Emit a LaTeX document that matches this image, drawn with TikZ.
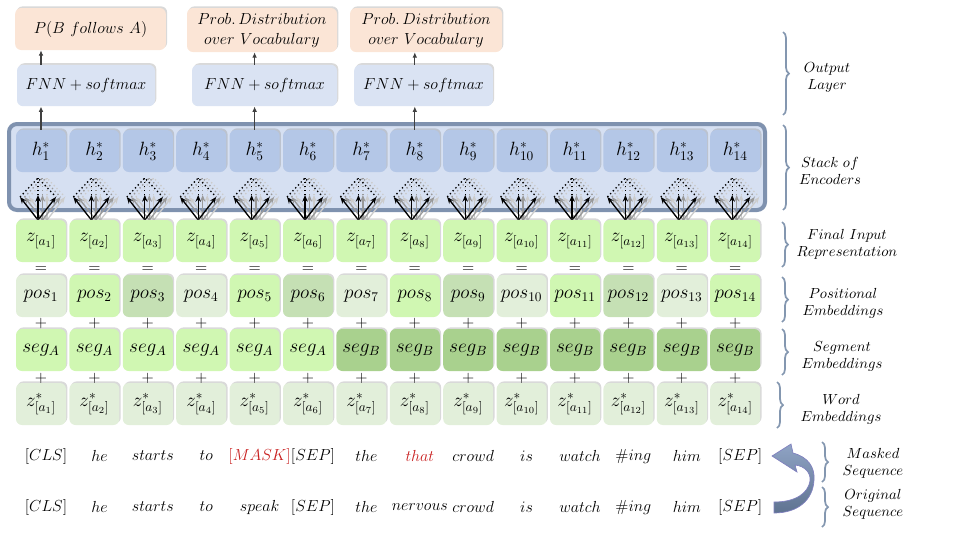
\documentclass[tikz,border=0pt]{standalone}
\usepackage{tikz}
\usetikzlibrary{arrows.meta, shadows, decorations.pathreplacing}

\definecolor{outpeach}{RGB}{251,229,214}
\definecolor{fnnblue}{RGB}{218,227,243}
\definecolor{hblue}{RGB}{180,199,231}
\definecolor{encfill}{RGB}{214,224,242}
\definecolor{encline}{RGB}{127,146,175}
\definecolor{bracegray}{RGB}{132,151,176}
\definecolor{zgreen}{RGB}{208,247,178}
\definecolor{poslight}{RGB}{226,239,218}
\definecolor{posdark}{RGB}{197,224,180}
\definecolor{segdark}{RGB}{169,209,142}
\definecolor{maskred}{RGB}{200,30,30}
\definecolor{arrtop}{RGB}{143,163,196}
\definecolor{arrbot}{RGB}{95,115,145}

\tikzset{
  cell/.style={rounded corners=4.5pt, minimum width=37.5pt, minimum height=31.5pt, inner sep=0pt,
    font=\fontsize{14}{16}\selectfont,
    drop shadow={shadow xshift=1pt, shadow yshift=1.2pt, opacity=0.3}},
  outbox/.style={cell, align=center, font=\fontsize{12.5}{15}\selectfont},
  sign/.style={inner sep=0pt, font=\fontsize{12}{14}\selectfont},
  token/.style={inner sep=1pt, font=\fontsize{12}{14}\selectfont},
  sidelabel/.style={align=center, inner sep=0pt, font=\fontsize{10.5}{12.75}\selectfont},
  sidebrace/.style={draw=bracegray, line width=1.3pt, decorate, decoration={brace, amplitude=4.5pt}},
  upline/.style={draw=black!75, line width=0.8pt, -{Latex[length=4pt, width=3.5pt]}},
  fanarrow/.style={line width=1pt, -{Stealth[length=5pt, width=4pt]}},
  fandot/.style={line width=1pt, dotted},
}

\begin{document}
\begin{tikzpicture}[x=0.75pt,y=0.75pt,yscale=-1,xscale=1]
    \useasboundingbox (0,0) rectangle (955,537);

    % Stack of encoders
    \node[draw=encline, line width=3pt, fill=encfill, rounded corners=6pt, minimum width=567pt, minimum height=64.5pt,
      drop shadow={shadow xshift=1pt, shadow yshift=1.5pt, opacity=0.3}] (enc) at (387,167) {};

    % Columns of embeddings
    \foreach \i in {1,...,14} {
      \pgfmathsetmacro{\cx}{41+(\i-1)*53.4}
      \pgfmathtruncatemacro{\r}{mod(\i,3)}
      \ifcase\r \def\pc{posdark}\or \def\pc{poslight}\or \def\pc{zgreen}\fi
      \ifnum\i<7 \def\sc{zgreen}\else \def\sc{segdark}\fi
      % attention fan
      \foreach \dx/\col in {9/black!20, 4.5/black!40, 0/black} {
        \draw[fanarrow, draw=\col] ({\cx-3+\dx},220) -- ({\cx-21+\dx},197);
        \draw[fanarrow, draw=\col] ({\cx-3+\dx},220) -- ({\cx-3+\dx},195);
        \draw[fanarrow, draw=\col] ({\cx-3+\dx},220) -- ({\cx+15+\dx},197);
        \draw[fandot, draw=\col] ({\cx-21+\dx},197) -- ({\cx-3+\dx},178) -- ({\cx+15+\dx},197);
        \draw[fandot, draw=\col] ({\cx-3+\dx},178) -- ({\cx-3+\dx},195);
      }
      \node[cell, fill=hblue] (h\i) at (\cx,151) {$h^{*}_{\i}$};
      \node[cell, fill=zgreen] (z\i) at (\cx,241) {$z_{[a_{\i}]}$};
      \node[sign] (eq\i) at (\cx,270) {$=$};
      \node[cell, fill=\pc] (p\i) at (\cx,296) {$pos_{\i}$};
      \node[sign] (pa\i) at (\cx,323) {$+$};
      \node[cell, fill=\sc] (s\i) at (\cx,350) {$seg_{\ifnum\i<7 A\else B\fi}$};
      \node[sign] (pb\i) at (\cx,378) {$+$};
      \node[cell, fill=poslight] (w\i) at (\cx,404) {$z^{*}_{[a_{\i}]}$};
    }

    % Output layer
    \node[outbox, fill=outpeach, minimum width=113pt] (nsp) at (90.5,29) {$P(B\ follows\ A)$};
    \node[outbox, fill=outpeach, minimum width=112.5pt, minimum height=33pt] (mlmA) at (262,30) {$Prob.\,Distribution$\\$over\ Vocabulary$};
    \node[outbox, fill=outpeach, minimum width=114pt, minimum height=33pt] (mlmB) at (426,30) {$Prob.\,Distribution$\\$over\ Vocabulary$};
    \node[outbox, fill=fnnblue, minimum width=103.5pt, minimum height=31pt] (fnnA) at (86,85.5) {$FNN+softmax$};
    \node[outbox, fill=fnnblue, minimum width=108.75pt, minimum height=31pt] (fnnB) at (264.5,85.5) {$FNN+softmax$};
    \node[outbox, fill=fnnblue, minimum width=104pt, minimum height=31pt] (fnnC) at (423.5,85.5) {$FNN+softmax$};

    \draw[upline] (h1.north) -- (h1.north |- fnnA.south);
    \draw[upline] (h1.north |- fnnA.north) -- (h1.north |- nsp.south);
    \draw[upline] (h5.north) -- (h5.north |- fnnB.south);
    \draw[upline] (h5.north |- fnnB.north) -- (h5.north |- mlmA.south);
    \draw[upline] (h8.north) -- (h8.north |- fnnC.south);
    \draw[upline] (h8.north |- fnnC.north) -- (h8.north |- mlmB.south);

    % Sequences
    \foreach \t [count=\i] in {{[CLS]},he,starts,to,{\color{maskred}[MASK]},{[SEP]},the,{\color{maskred}that},crowd,is,watch,\#ing,him,{[SEP]}} {
      \pgfmathsetmacro{\cx}{46+(\i-1)*53.4}
      \node[token] (m\i) at (\cx,456) {$\t$};
    }
    \foreach \t [count=\i] in {{[CLS]},he,starts,to,speak,{[SEP]},the,nervous,crowd,is,watch,\#ing,him,{[SEP]}} {
      \pgfmathsetmacro{\cx}{46+(\i-1)*53.4}
      \node[token] (o\i) at (\cx,507) {$\t$};
    }

    % Curved arrow
    \shade[top color=arrtop, bottom color=arrbot, draw=blue!50!black!50, line width=0.5pt]
      (774,502) .. controls (796,502) and (808,493) .. (810,481)
      .. controls (811,473) and (805,466) .. (795,465)
      -- (797,472) -- (772,456) -- (791,444) -- (793,453)
      .. controls (808,457) and (815,467) .. (814,480)
      .. controls (813,500) and (798,513) .. (774,513) -- cycle;

    % Side labels
    \draw[sidebrace] (783,32) -- (783,115);
    \node[sidelabel] (lOut) at (827,77) {$Output$\\$Layer$};
    \draw[sidebrace] (783,125) -- (783,210);
    \node[sidelabel] (lEnc) at (830,171) {$Stack\ of$\\$Encoders$};
    \draw[sidebrace] (782,222) -- (782,267);
    \node[sidelabel] (lFin) at (847,244) {$Final\ Input$\\$Representation$};
    \draw[sidebrace] (782,277) -- (782,322);
    \node[sidelabel] (lPos) at (843,303) {$Positional$\\$Embeddings$};
    \draw[sidebrace] (782,329) -- (782,375);
    \node[sidelabel] (lSeg) at (842,356) {$Segment$\\$Embeddings$};
    \draw[sidebrace] (777,382) -- (777,428);
    \node[sidelabel] (lWrd) at (841,409) {$Word$\\$Embeddings$};
    \draw[sidebrace] (822,442) -- (822,482);
    \node[sidelabel] (lMsk) at (873,463) {$Masked$\\$Sequence$};
    \draw[sidebrace] (822,487) -- (822,527);
    \node[sidelabel] (lOrg) at (873,504) {$Original$\\$Sequence$};

\end{tikzpicture}
\end{document}
